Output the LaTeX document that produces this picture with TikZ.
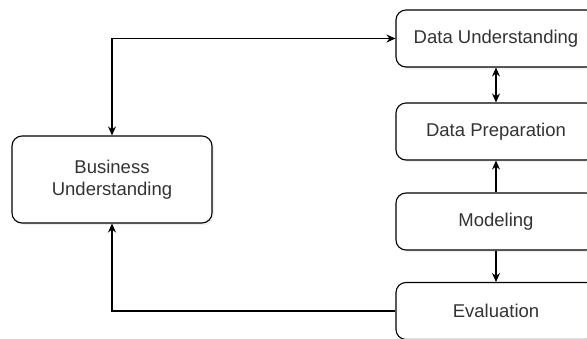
\documentclass[tikz,border=0pt]{standalone}
\usepackage{fontspec}
\setmainfont{Liberation Sans}
\usetikzlibrary{arrows.meta,shadows}

\begin{document}
\begin{tikzpicture}[x=1pt,y=-1pt,
    phase/.style={draw, line width=1.1pt, rounded corners=10pt, fill=white,
      minimum width=200pt, minimum height=57pt, inner sep=0pt,
      text=black!80, font=\fontsize{18.5}{22}\selectfont, align=center,
      drop shadow={opacity=0.12, shadow xshift=2pt, shadow yshift=-2pt}},
    flow/.style={line width=1.1pt, -{Stealth[length=9pt,width=8pt]}},
    flowboth/.style={line width=1.1pt, {Stealth[length=9pt,width=8pt]}-{Stealth[length=9pt,width=8pt]}}]
    \clip (0,0) rectangle (587,338);
    \fill[white] (0,0) rectangle (587,338);

    \node[phase, minimum height=87pt] (biz) at (112,179.5) {Business\\Understanding};
    \node[phase] (du) at (496,38.5) {Data Understanding};
    \node[phase] (dp) at (496,131.5) {Data Preparation};
    \node[phase] (mod) at (496,221.5) {Modeling};
    \node[phase] (ev) at (496,311) {Evaluation};

    \draw[flowboth] (biz.north) |- (du.west);
    \draw[flowboth] (du) -- (dp);
    \draw[flow] (mod) -- (dp);
    \draw[flow] (mod) -- (ev);
    \draw[flow] (ev.west) -| (biz.south);
\end{tikzpicture}
\end{document}
